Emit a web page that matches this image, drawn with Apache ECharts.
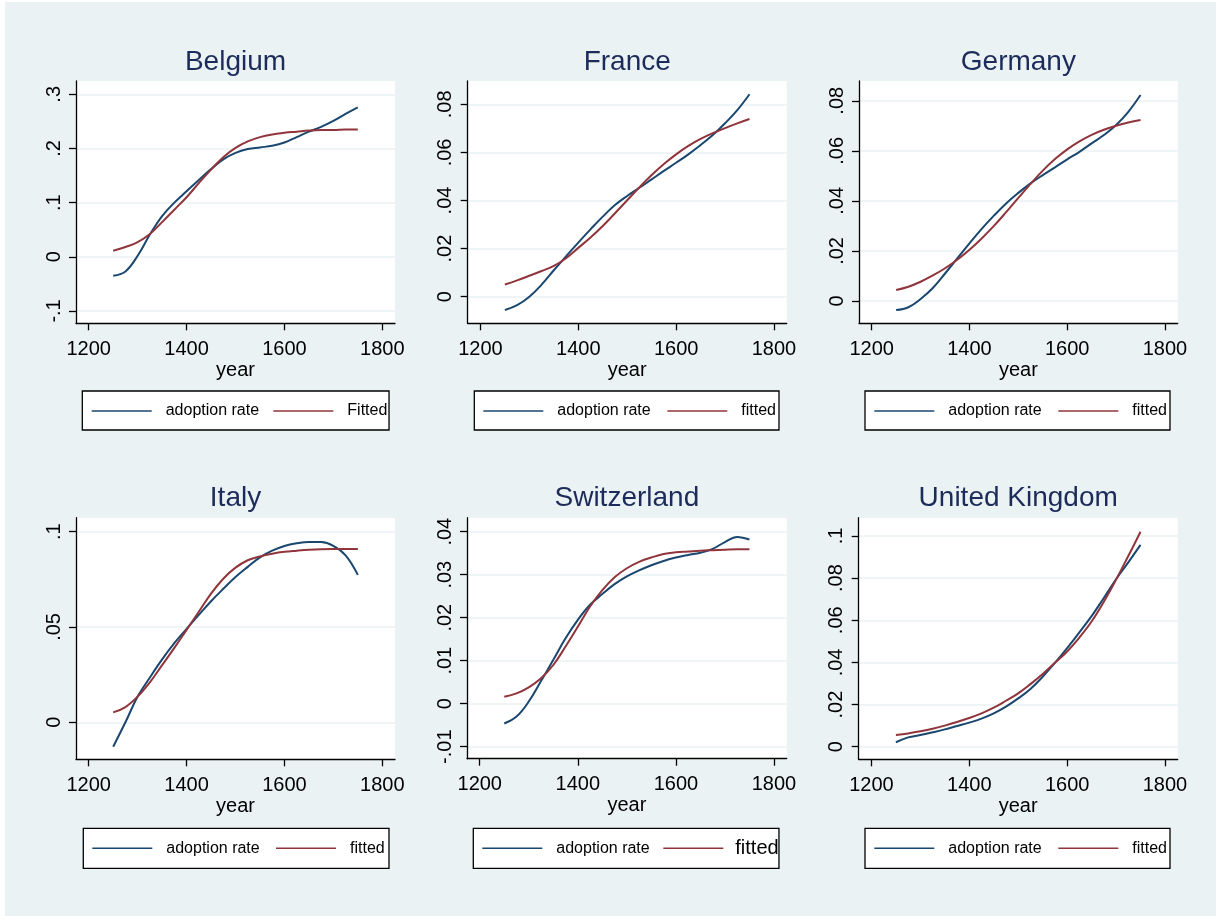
<!DOCTYPE html>
<html><head><meta charset="utf-8">
<script src="https://cdn.jsdelivr.net/npm/echarts@6/dist/echarts.min.js"></script>
<style>
html,body{margin:0;padding:0;background:#fff;width:1216px;height:916px;overflow:hidden}
#c{position:absolute;left:5px;top:2px;width:1211px;height:914px}
</style></head>
<body><div id="c"></div>
<script>
// ---------------- DATA ----------------
const years = [1250,1275,1300,1325,1350,1375,1400,1425,1450,1475,1500,1525,1550,1575,1600,1625,1650,1675,1700,1725,1750];
const countries = ['Belgium','France','Germany','Italy','Switzerland','United Kingdom'];
const adoptionName = 'adoption rate';
const fittedNames = ['Fitted','fitted','fitted','fitted','fitted','fitted'];

const belgiumAdoption = [-0.035,-0.027,0.002,0.041,0.075,0.100,0.121,0.142,0.162,0.180,0.192,0.199,0.202,0.205,0.211,0.221,0.231,0.240,0.251,0.264,0.276];
const belgiumFitted   = [0.011,0.018,0.027,0.042,0.064,0.087,0.110,0.136,0.161,0.184,0.201,0.213,0.221,0.226,0.229,0.231,0.233,0.234,0.234,0.235,0.235];

const franceAdoption = [-0.0055,-0.0035,0.0,0.0050,0.0110,0.0168,0.0225,0.0280,0.0333,0.0381,0.0419,0.0453,0.0488,0.0523,0.0557,0.0592,0.0631,0.0672,0.0721,0.0776,0.0842];
const franceFitted   = [0.0051,0.0068,0.0087,0.0107,0.0128,0.0160,0.0203,0.0246,0.0294,0.0347,0.0401,0.0455,0.0506,0.0552,0.0592,0.0627,0.0656,0.0680,0.0701,0.0721,0.0739];

const germanyAdoption = [-0.0036,-0.0025,0.0008,0.0052,0.0110,0.0170,0.0230,0.0288,0.0341,0.0390,0.0432,0.0470,0.0503,0.0534,0.0566,0.0596,0.0630,0.0663,0.0703,0.0756,0.0823];
const germanyFitted   = [0.0044,0.0057,0.0077,0.0102,0.0131,0.0165,0.0205,0.0250,0.0300,0.0355,0.0412,0.0468,0.0521,0.0567,0.0606,0.0638,0.0664,0.0684,0.0700,0.0713,0.0723];

const italyAdoption = [-0.0128,0.0000,0.0135,0.0235,0.0330,0.0415,0.0490,0.0563,0.0635,0.0700,0.0762,0.0815,0.0865,0.0900,0.0925,0.0939,0.0946,0.0945,0.0925,0.0875,0.0773];
const italyFitted   = [0.0052,0.0080,0.0135,0.0210,0.0300,0.0390,0.0485,0.0580,0.0675,0.0753,0.0811,0.0850,0.0870,0.0884,0.0894,0.0900,0.0905,0.0908,0.0909,0.0909,0.0909];

const switzerlandAdoption = [-0.0046,-0.0030,0.0005,0.0053,0.0102,0.0152,0.0195,0.0230,0.0255,0.0278,0.0296,0.0310,0.0322,0.0332,0.0340,0.0346,0.0351,0.0360,0.0376,0.0388,0.0382];
const switzerlandFitted   = [0.0016,0.0024,0.0038,0.0059,0.0090,0.0133,0.0179,0.0226,0.0264,0.0294,0.0315,0.0330,0.0340,0.0348,0.0352,0.0354,0.0356,0.0357,0.0358,0.0359,0.0359];

const ukAdoption = [0.0021,0.0044,0.0055,0.0068,0.0082,0.0098,0.0114,0.0133,0.0158,0.0190,0.0229,0.0274,0.0332,0.0398,0.0468,0.0543,0.0620,0.0706,0.0795,0.0875,0.0958];
const ukFitted   = [0.0055,0.0063,0.0073,0.0085,0.0100,0.0117,0.0136,0.0158,0.0185,0.0218,0.0253,0.0297,0.0345,0.0398,0.0452,0.0518,0.0594,0.0688,0.0793,0.0905,0.1020];

const adoptionSeries = [belgiumAdoption, franceAdoption, germanyAdoption, italyAdoption, switzerlandAdoption, ukAdoption];
const fittedSeries   = [belgiumFitted, franceFitted, germanyFitted, italyFitted, switzerlandFitted, ukFitted];

const xTicks = [1200,1400,1600,1800];
const belgiumTicks = [-0.1,0,0.1,0.2,0.3];
const franceTicks = [0,0.02,0.04,0.06,0.08];
const germanyTicks = [0,0.02,0.04,0.06,0.08];
const italyTicks = [0,0.05,0.1];
const switzerlandTicks = [-0.01,0,0.01,0.02,0.03,0.04];
const ukTicks = [0,0.02,0.04,0.06,0.08,0.1];
const yTicks = [belgiumTicks, franceTicks, germanyTicks, italyTicks, switzerlandTicks, ukTicks];

// ---------------- LAYOUT (page pixels) ----------------
const OX = 5, OY = 2;
const panels = [
  {l:76,    r:395,    t:81,    b:323.3, ymin:-0.1228, ymax:0.3246,  titleC:62.5,  lg:{l:82.3, t:391,   gap:14.2, pad:[12,1.7,11,9.4]}},
  {l:467.7, r:786.7,  t:81,    b:323.3, ymin:-0.01106,ymax:0.0897,  titleC:62.5,  lg:{l:474.3,t:391,   gap:16.6, pad:[12,3,11,9]}},
  {l:859,   r:1177.7, t:81,    b:323.3, ymin:-0.0089, ymax:0.0879,  titleC:62.5,  lg:{l:865,  t:391,   gap:16.6, pad:[12,3,11,9.3]}},
  {l:76,    r:395,    t:517.7, b:759.3, ymin:-0.0194, ymax:0.1073,  titleC:498,   lg:{l:83.3, t:828.3, gap:16.3, pad:[12,4.3,12,9]}},
  {l:467,   r:786.7,  t:517.7, b:758.7, ymin:-0.01279,ymax:0.04326, titleC:498,   lg:{l:473.3,t:828.3, gap:13.6, pad:[10,0.3,10,9], bigFitted:true}},
  {l:858.7, r:1177.7, t:517.7, b:759.3, ymin:-0.006,  ymax:0.1087,  titleC:498,   lg:{l:865,  t:828.3, gap:16.6, pad:[12,3,12,9.3]}}
];
const X_MIN = 1174, X_MAX = 1826;

const FONT = '"Liberation Sans", Arial, Helvetica, sans-serif';
const BLUE = '#1a476f', RED = '#90353b';
const BG = '#eaf2f3';

function fmt(v){
  const s = String(Number(Number(v).toFixed(4)));
  return s.replace(/^(-?)0\./, '$1.');
}

const grids = [], xAxes = [], yAxes = [], titles = [], legends = [], series = [];
panels.forEach((p, i) => {
  grids.push({
    left: p.l - OX, top: p.t - OY, width: p.r - p.l, height: p.b - p.t,
    show: true, backgroundColor: '#ffffff', borderWidth: 0, containLabel: false
  });
  xAxes.push({
    type: 'value', gridIndex: i, min: X_MIN, max: X_MAX,
    name: 'year', nameLocation: 'middle', nameGap: 33,
    nameTextStyle: {fontFamily: FONT, fontSize: 20, color: '#000'},
    axisLine: {show: true, onZero: false, lineStyle: {color: '#000', width: 1.3}},
    axisTick: {show: true, length: 7, lineStyle: {color: '#000', width: 1.3}, customValues: xTicks},
    axisLabel: {fontFamily: FONT, fontSize: 20, color: '#000', margin: 16, customValues: xTicks,
                formatter: v => String(v), showMinLabel: true, showMaxLabel: true},
    splitLine: {show: false}
  });
  yAxes.push({
    type: 'value', gridIndex: i, min: p.ymin, max: p.ymax,
    axisLine: {show: true, lineStyle: {color: '#000', width: 1.3}},
    axisTick: {show: true, length: 7, lineStyle: {color: '#000', width: 1.3}, customValues: yTicks[i]},
    axisLabel: {fontFamily: FONT, fontSize: 20, color: '#000', margin: 12, rotate: 90,
                customValues: yTicks[i], formatter: v => fmt(v), showMinLabel: true, showMaxLabel: true},
    splitLine: {show: true, lineStyle: {color: BG, width: 1.5}}
  });
  titles.push({
    text: countries[i], left: (p.l + p.r) / 2 - OX, top: p.titleC - 14 - OY, textAlign: 'center', padding: 0,
    textStyle: {fontFamily: FONT, fontSize: 28, fontWeight: 'normal', color: '#1c2b5a'}
  });
  const fittedItem = p.lg.bigFitted
    ? {name: fittedNames[i], textStyle: {fontSize: 20, padding: [0,0,0,7]}}
    : {name: fittedNames[i]};
  legends.push({
    data: [{name: adoptionName}, fittedItem],
    left: p.lg.l - OX, top: p.lg.t - OY, orient: 'horizontal',
    icon: 'rect', itemWidth: 60, itemHeight: 1.6, itemGap: p.lg.gap,
    itemStyle: {borderWidth: 0},
    padding: p.lg.pad,
    backgroundColor: '#ffffff', borderColor: '#000', borderWidth: 1.3, borderRadius: 0,
    selectedMode: false,
    textStyle: {fontFamily: FONT, fontSize: 16, color: '#000', padding: [0,0,0,9]}
  });
  series.push({
    type: 'line', name: adoptionName, xAxisIndex: i, yAxisIndex: i,
    data: years.map((y, k) => [y, adoptionSeries[i][k]]),
    smooth: 0.4, symbol: 'none', showSymbol: false, silent: true,
    lineStyle: {color: BLUE, width: 2}, itemStyle: {color: BLUE}
  });
  series.push({
    type: 'line', name: fittedNames[i], xAxisIndex: i, yAxisIndex: i,
    data: years.map((y, k) => [y, fittedSeries[i][k]]),
    smooth: 0.4, symbol: 'none', showSymbol: false, silent: true,
    lineStyle: {color: RED, width: 2}, itemStyle: {color: RED}
  });
});

const chart = echarts.init(document.getElementById('c'), null, {renderer: 'canvas'});
chart.setOption({
  backgroundColor: BG,
  animation: false,
  title: titles, grid: grids, xAxis: xAxes, yAxis: yAxes, legend: legends, series: series
});
</script>
</body></html>
